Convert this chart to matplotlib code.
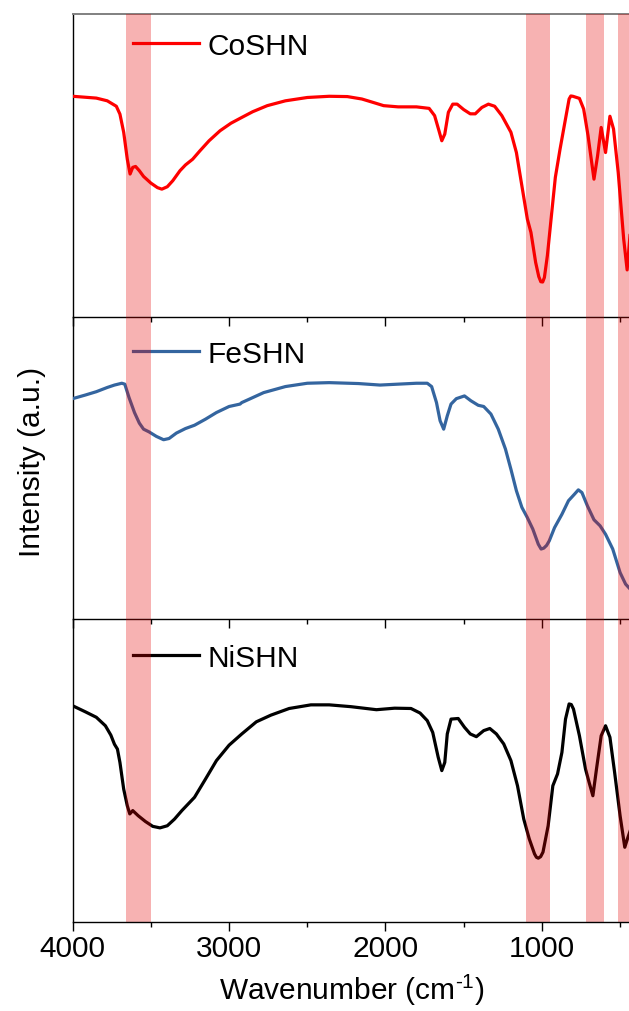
import matplotlib
matplotlib.use("Agg")
import matplotlib.pyplot as plt

plt.rcParams['font.family'] = ['Liberation Sans', 'DejaVu Sans']
plt.rcParams['mathtext.fontset'] = 'custom'
plt.rcParams['mathtext.rm'] = 'Liberation Sans'
plt.rcParams['mathtext.it'] = 'Liberation Sans:italic'

# Wavenumber (cm^-1) and relative transmittance (0-100 per panel)
co_wn = [4000, 3849, 3779, 3721, 3698, 3674, 3651, 3633, 3616, 3598, 3574, 3547,
         3500, 3458, 3430, 3395, 3360, 3314, 3279, 3233, 3186, 3128, 3058, 2988,
         2919, 2849, 2756, 2640, 2500, 2360, 2244, 2151, 2081, 2012, 1919, 1802,
         1721, 1686, 1658, 1640, 1621, 1598, 1570, 1542, 1500, 1458, 1426, 1384,
         1342, 1302, 1256, 1198, 1163, 1128, 1093, 1070, 1040, 1020, 1007, 995, 984, 965,
         937, 914, 884, 853, 826, 815, 802, 760, 733, 705, 667, 644, 621, 593, 565,
         542, 512, 477, 455, 435]
co_val = [72.8, 72.2, 71.3, 69.5, 66.9, 60.9, 52.0, 47.1, 49.3, 49.6, 48.2, 46.3,
          44.1, 42.6, 42.1, 42.9, 44.9, 48.2, 50.1, 52.0, 54.8, 58.1, 61.4, 63.9,
          65.8, 67.7, 69.7, 71.3, 72.4, 72.8, 72.7, 71.9, 70.8, 69.7, 69.3, 69.3,
          68.8, 66.4, 61.4, 58.1, 60.3, 67.5, 70.2, 70.2, 68.4, 67.0, 67.0, 69.1,
          70.2, 69.5, 66.4, 60.9, 54.2, 43.2, 32.2, 27.8, 17.9, 13.2, 11.5, 11.4, 12.9, 20.1,
          34.4, 46.0, 55.3, 64.2, 71.9, 72.9, 72.8, 72.1, 68.6, 59.8, 45.4, 53.1, 62.5,
          54.2, 66.2, 62.0, 47.6, 25.6, 15.4, 27.8]

fe_wn = [4000, 3919, 3849, 3779, 3733, 3686, 3667, 3640, 3605, 3574, 3547, 3512,
         3465, 3419, 3384, 3337, 3279, 3221, 3151, 3081, 3000, 2930, 2919, 2872,
         2779, 2640, 2500, 2360, 2174, 2035, 1919, 1802, 1733, 1705, 1674, 1651,
         1628, 1605, 1581, 1547, 1495, 1454, 1407, 1372, 1326, 1279, 1233, 1198,
         1163, 1128, 1093, 1058, 1023, 1005, 988, 970, 953, 919, 872, 830, 791, 767, 744,
         709, 667, 628, 593, 547, 500, 465, 435]
fe_val = [72.8, 74.0, 75.1, 76.5, 77.3, 77.9, 77.6, 73.2, 68.2, 64.7, 62.7, 61.8,
          60.3, 59.2, 59.6, 61.4, 62.9, 64.0, 66.0, 68.2, 70.2, 71.0, 71.5, 72.6,
          74.8, 76.8, 77.9, 78.1, 77.8, 77.3, 77.6, 77.9, 77.9, 76.8, 71.5, 65.5,
          62.7, 67.1, 71.0, 72.8, 73.7, 72.1, 70.6, 70.2, 67.7, 62.7, 56.1, 49.4,
          42.3, 36.8, 33.4, 29.6, 24.6, 23.0, 23.3, 24.2, 25.7, 30.1, 34.5, 39.0, 41.2, 42.6,
          41.7, 37.3, 32.7, 30.7, 27.9, 23.0, 15.2, 11.4, 9.7]

ni_wn = [4000, 3919, 3849, 3791, 3756, 3733, 3714, 3698, 3674, 3651, 3635, 3616,
         3581, 3535, 3488, 3442, 3395, 3349, 3302, 3221, 3151, 3081, 3000, 2919,
         2826, 2733, 2616, 2477, 2360, 2221, 2058, 1942, 1837, 1779, 1733, 1698,
         1663, 1640, 1621, 1605, 1581, 1535, 1495, 1458, 1419, 1372, 1333, 1291,
         1244, 1198, 1156, 1116, 1081, 1047, 1035, 1023, 1008, 993, 960, 930, 900, 872, 849,
         826, 812, 798, 760, 721, 698, 674, 651, 621, 593, 565, 535, 500, 470, 453, 435]
ni_val = [71.2, 69.2, 67.4, 64.6, 61.5, 58.5, 56.9, 52.5, 43.7, 38.2, 35.5, 36.6,
          34.9, 33.0, 31.4, 30.9, 31.6, 33.8, 36.6, 41.0, 47.0, 53.1, 58.2, 61.9,
          65.9, 68.1, 70.3, 71.5, 71.5, 70.9, 69.9, 70.4, 70.3, 68.8, 66.3, 62.4,
          54.2, 49.8, 52.5, 61.9, 66.8, 67.0, 64.1, 61.9, 61.0, 63.0, 63.7, 61.9,
          58.6, 53.1, 44.8, 33.8, 27.3, 22.3, 21.2, 20.9, 21.4, 22.9, 31.6, 44.8, 48.7, 55.8,
          66.8, 71.8, 71.6, 70.1, 61.3, 50.3, 45.9, 41.5, 50.3, 61.3, 64.6, 60.8, 49.2,
          34.9, 24.5, 27.3, 30.0]

labels = ['CoSHN', 'FeSHN', 'NiSHN']
colors = ['#FF0000', '#34659F', '#000000']
series = [(co_wn, co_val), (fe_wn, fe_val), (ni_wn, ni_val)]

# highlighted absorption regions (cm^-1)
bands = [(3660, 3500), (1100, 945), (720, 603), (515, 400)]

W, H = 629, 1012
fig = plt.figure(figsize=(W / 100, H / 100), dpi=100)

left_px = 72.7
panel_px = [(15, 317.5), (317.5, 619.5), (619.5, 922.5)]
legend_y = [0.895, 0.876, 0.870]
FS = 21.5

axes = []
for i, ((top, bot), lab, col, (wn, val)) in enumerate(zip(panel_px, labels, colors, series)):
    ax = fig.add_axes([left_px / W, 1 - bot / H, (W - left_px) / W + 0.002, (bot - top) / H])
    ax.patch.set_visible(False)
    ax.plot(wn, val, color=col, lw=2.3, solid_joinstyle='round', label=lab, zorder=3)
    for a, b in bands:
        ax.axvspan(a, b, color='#E70000', alpha=0.3, lw=0, zorder=6)
    ax.set_xlim(4000, 435)
    ax.set_ylim(0, 100)
    ax.set_yticks([])
    ax.set_xticks([4000, 3000, 2000, 1000])
    ax.set_xticks([3500, 2500, 1500, 500], minor=True)
    ax.tick_params(axis='x', which='major', direction='out', length=6.2, width=1.0,
                   labelsize=FS, pad=2.5)
    ax.tick_params(axis='x', which='minor', direction='out', length=3.4, width=1.0)
    ax.spines['right'].set_visible(False)
    ax.spines['left'].set_linewidth(1.0)
    ax.spines['bottom'].set_linewidth(1.0)
    ax.spines['bottom'].set_zorder(7)
    if i == 0:
        ax.spines['top'].set_color('#808080')
        ax.spines['top'].set_linewidth(1.4)
    else:
        ax.spines['top'].set_visible(False)
    if i < 2:
        ax.tick_params(axis='x', which='both', labelbottom=False)
    leg = ax.legend(loc='center left', bbox_to_anchor=(0.108, legend_y[i]),
                    frameon=False, fontsize=FS, handlelength=2.2, handletextpad=0.3,
                    borderpad=0, borderaxespad=0)
    leg.set_zorder(4)
    axes.append(ax)

axes[-1].set_xlabel('Wavenumber (cm$^{\\text{-1}}$)', fontsize=FS, labelpad=7)
fig.text(32 / W, 1 - 462 / H, 'Intensity (a.u.)', rotation=90, fontsize=FS,
         ha='center', va='center')

fig.savefig('out.png', dpi=100)
